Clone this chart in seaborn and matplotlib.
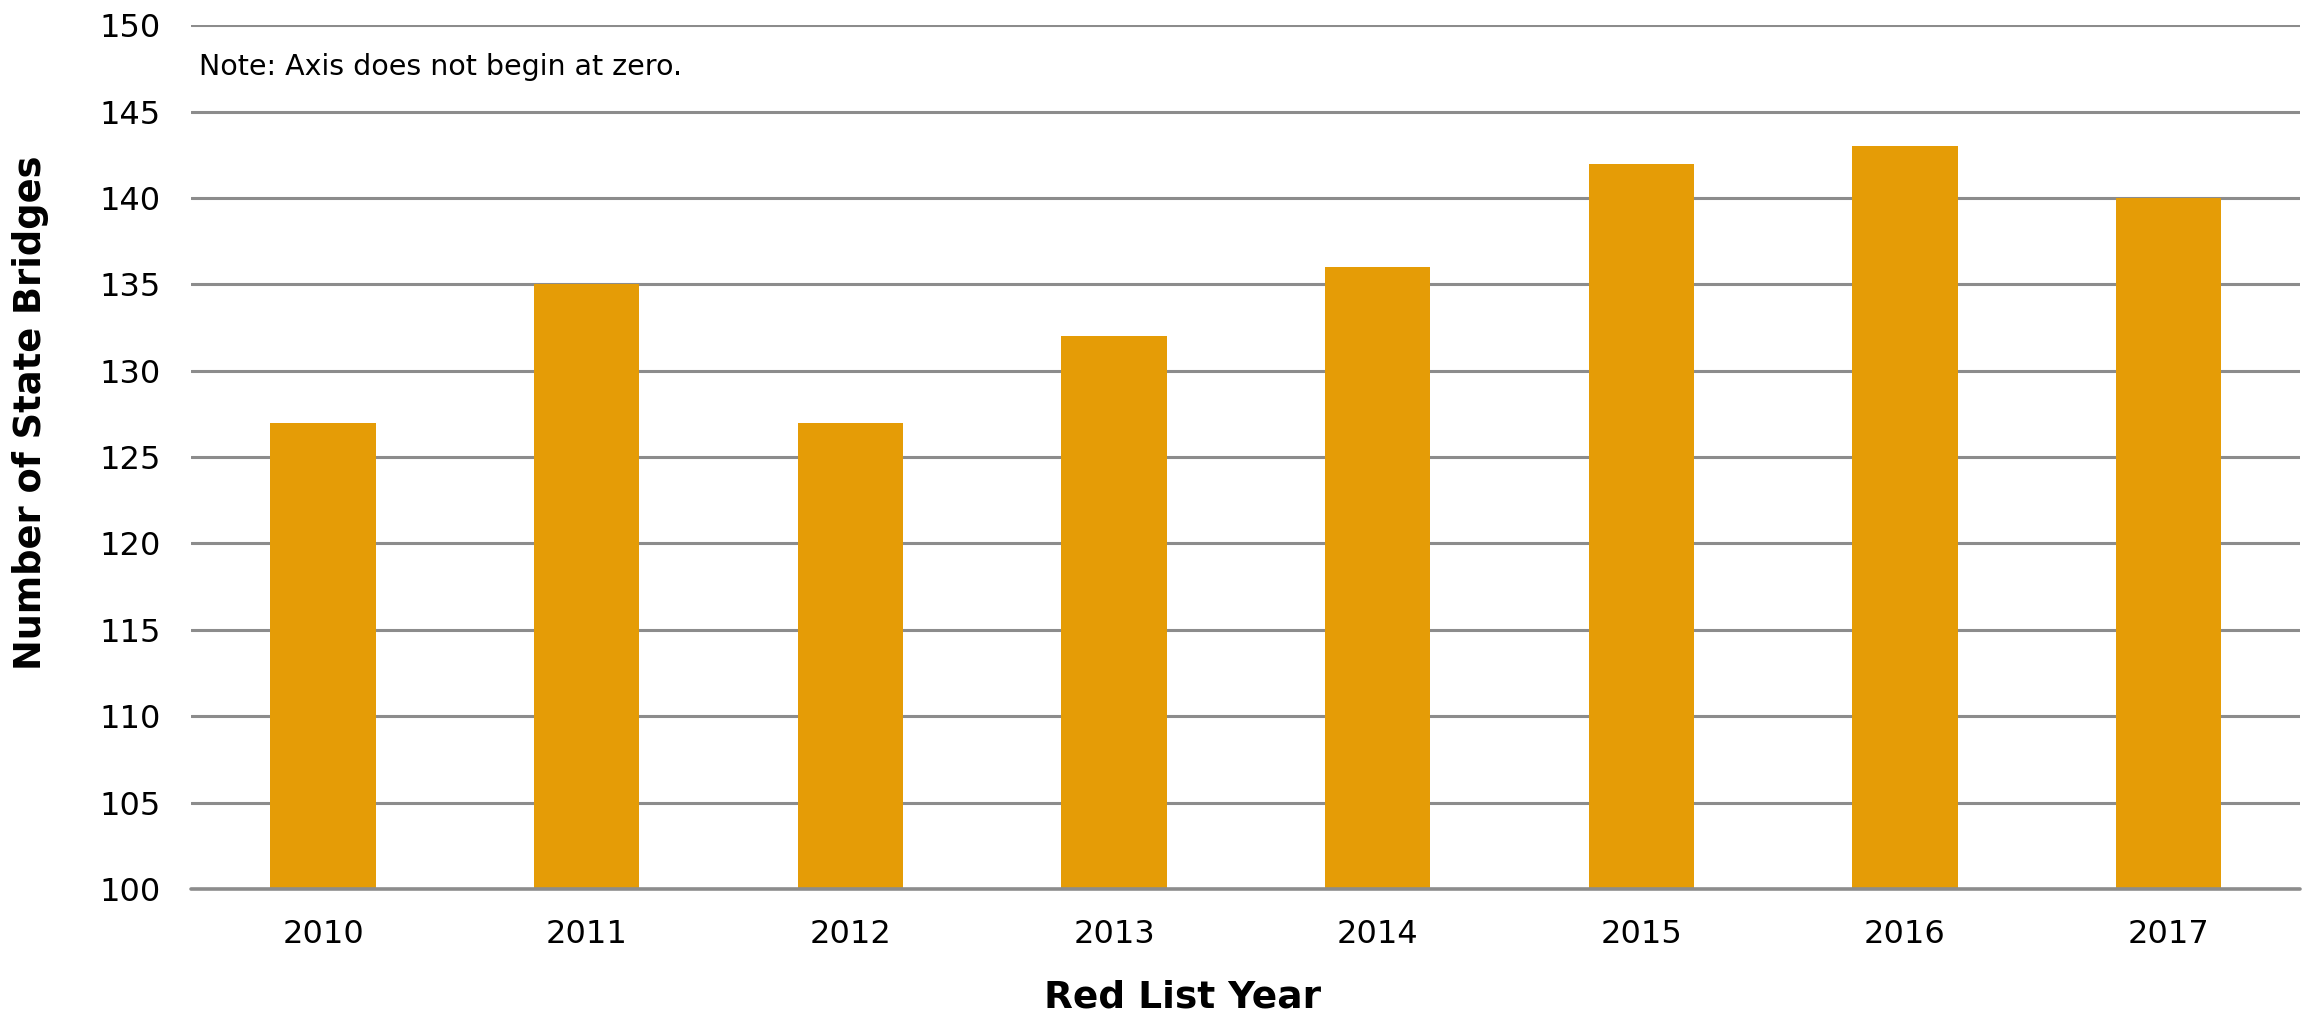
import pandas as pd
import matplotlib.pyplot as plt
import seaborn as sns

# data
years = ["2010", "2011", "2012", "2013", "2014", "2015", "2016", "2017"]
bridges = [127, 135, 127, 132, 136, 142, 143, 140]
y_ticks = [100, 105, 110, 115, 120, 125, 130, 135, 140, 145, 150]

BAR_COLOR = "#E59C06"
GRID_COLOR = "#8C8C8C"


def main():
    df = pd.DataFrame({"year": years, "bridges": bridges})

    sns.set_theme(style="white")
    plt.rcParams["font.family"] = ["DejaVu Sans"]
    plt.rcParams["text.color"] = "black"

    fig = plt.figure(figsize=(23.05, 10.17), dpi=100)
    ax = fig.add_axes([0.083, 0.126, 0.915, 0.849])

    sns.barplot(data=df, x="year", y="bridges", color=BAR_COLOR,
                saturation=1, width=0.4, linewidth=0, ax=ax, zorder=3)

    ax.set_ylim(100, 150)
    ax.set_xlim(-0.5, len(years) - 0.5)
    ax.set_yticks(y_ticks)

    # horizontal gridlines only
    ax.yaxis.grid(True, color=GRID_COLOR, linewidth=2.2, zorder=0)
    ax.axhline(100, color=GRID_COLOR, linewidth=2.6, zorder=4, clip_on=False)
    ax.set_axisbelow(True)
    for side in ["top", "right", "left", "bottom"]:
        ax.spines[side].set_visible(False)

    ax.tick_params(axis="y", length=0, pad=22, labelsize=23, labelcolor="black")
    ax.tick_params(axis="x", length=0, pad=22, labelsize=23, labelcolor="black")

    ax.set_xlabel("Red List Year", fontsize=27, fontweight="bold", color="black")
    ax.set_ylabel("Number of State Bridges", fontsize=26.5, fontweight="bold",
                  color="black")
    # the reference places both axis titles a little off centre
    ax.xaxis.set_label_coords(0.470, -0.105)
    ax.yaxis.set_label_coords(-0.0676, 0.551)

    ax.text(-0.47, 147.6, "Note: Axis does not begin at zero.",
            fontsize=20.5, va="center", ha="left", color="black")

    fig.savefig("out.png", dpi=100)


if __name__ == "__main__":
    main()
